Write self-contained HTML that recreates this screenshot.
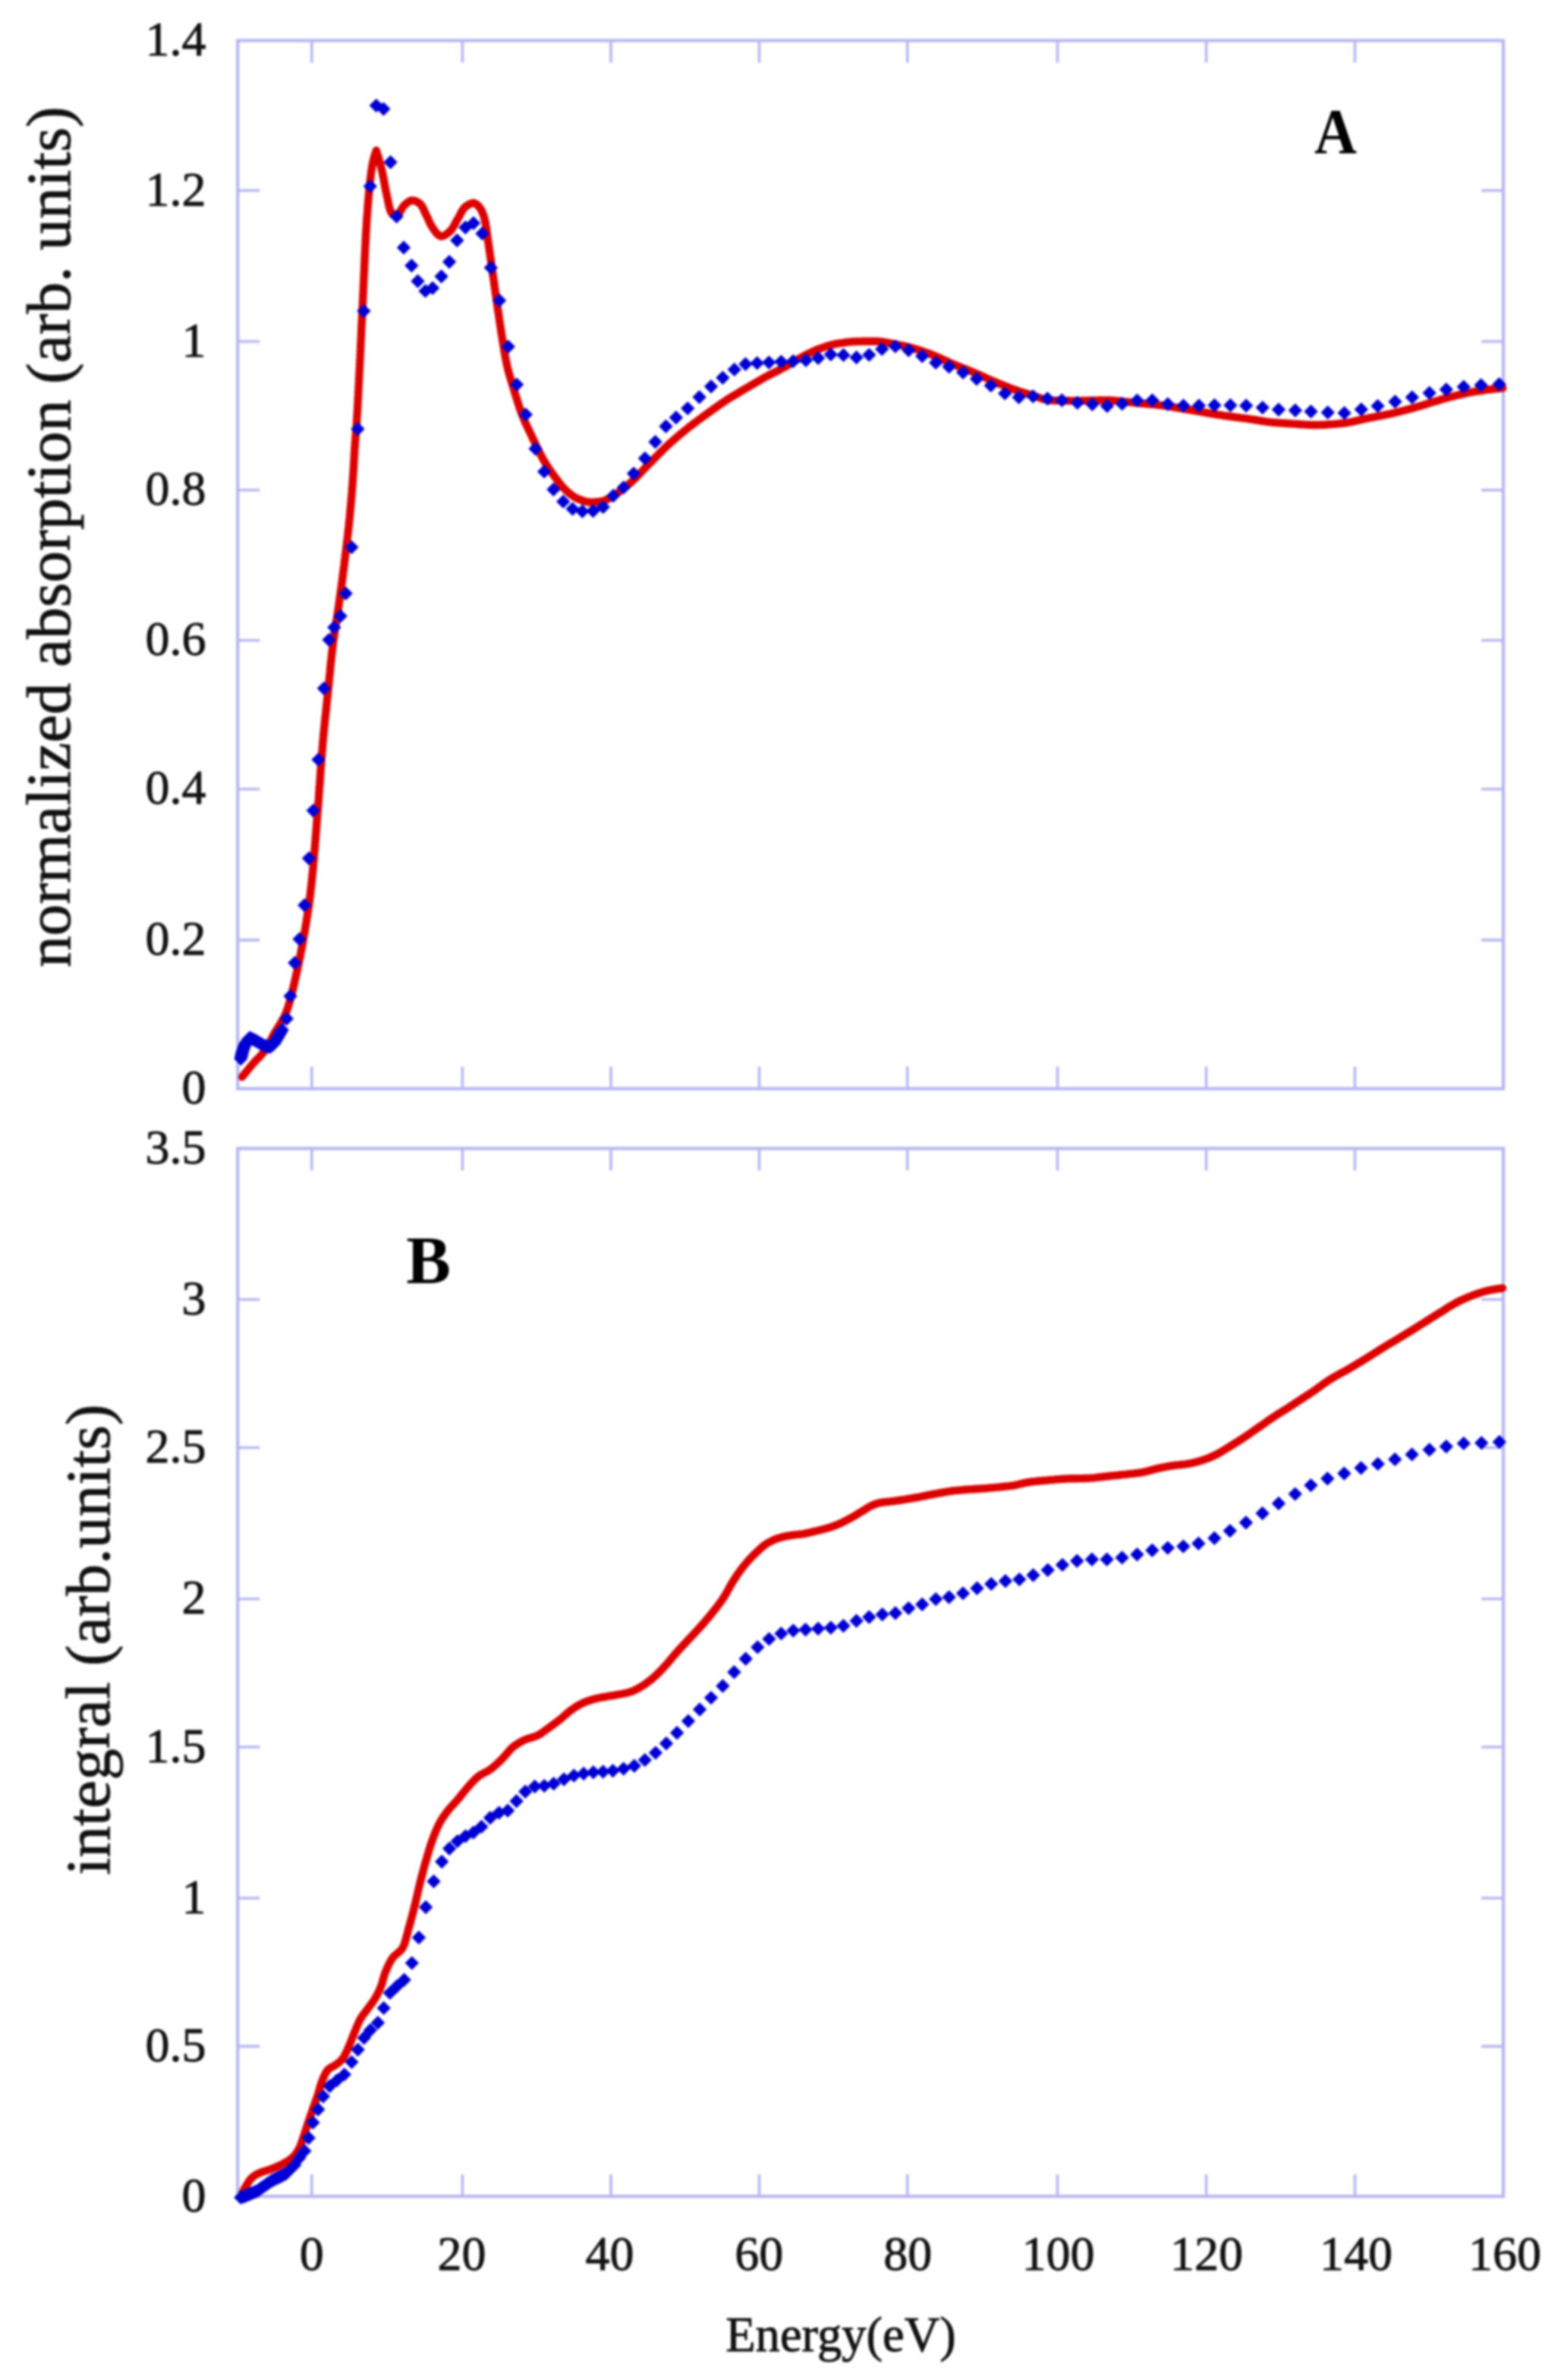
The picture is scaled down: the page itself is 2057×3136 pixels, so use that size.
<!DOCTYPE html>
<html lang="en"><head><meta charset="utf-8"><title>Normalized absorption and integral vs Energy</title>
<style>
html,body{margin:0;padding:0;background:#fff;}
svg{display:block;filter:blur(1.5px);}
text{font-family:"Liberation Serif", "Times New Roman", serif;fill:#111111;stroke:#111111;stroke-width:0.9px;stroke-linejoin:round;}
.tk{font-size:64px;}
.yl{font-size:83.4px;}
.pl{font-size:86px;font-weight:bold;fill:#000;stroke:none;}
</style></head><body>
<svg width="2057" height="3136" viewBox="0 0 2057 3136">
<rect width="2057" height="3136" fill="#ffffff"/>

<g id="panelA">
<rect x="313.3" y="53.4" width="1667.7" height="1381.1" fill="none" stroke="#b6b6f3" stroke-width="4.3"/>
<path d="M410.8,53.4v29M410.8,1434.5v-29M609.4,53.4v29M609.4,1434.5v-29M805.0,53.4v29M805.0,1434.5v-29M1000.5,53.4v29M1000.5,1434.5v-29M1195.7,53.4v29M1195.7,1434.5v-29M1393.5,53.4v29M1393.5,1434.5v-29M1589.5,53.4v29M1589.5,1434.5v-29M1785.4,53.4v29M1785.4,1434.5v-29M313.3,251h29M1981.0,251h-29M313.3,450h29M1981.0,450h-29M313.3,645.8h29M1981.0,645.8h-29M313.3,843.8h29M1981.0,843.8h-29M313.3,1039.8h29M1981.0,1039.8h-29M313.3,1238.6h29M1981.0,1238.6h-29" stroke="#b6b6f3" stroke-width="3.6" fill="none"/>
<path d="M319.2,1419 L321,1416.6 L322.9,1414.3 L324.8,1411.9 L326.7,1409.6 L328.6,1407.3 L330.5,1405 L332.4,1402.7 L334.4,1400.4 L336.4,1398.2 L338.5,1396 L340.7,1393.9 L342.7,1391.7 L344.7,1389.5 L346.7,1387.2 L348.4,1384.8 L350.1,1382.4 L351.7,1379.8 L353.2,1377.3 L354.6,1374.6 L356.1,1372 L357.5,1369.3 L358.9,1366.6 L360.3,1364 L361.8,1361.3 L363.3,1358.7 L364.9,1356.2 L366.5,1353.6 L368.1,1351 L369.7,1348.4 L371.2,1345.8 L372.7,1343.2 L374.2,1340.6 L375.5,1337.9 L376.6,1335.2 L377.7,1332.5 L378.6,1329.7 L379.6,1326.9 L380.5,1324.1 L381.3,1321.2 L382.2,1318.3 L383,1315.4 L383.7,1312.5 L384.5,1309.6 L385.2,1306.6 L385.9,1303.7 L386.6,1300.8 L387.3,1297.8 L388,1294.8 L388.6,1291.9 L389.3,1289 L390,1286 L390.6,1283.1 L391.3,1280.2 L391.9,1277.3 L392.6,1274.3 L393.2,1271.4 L393.8,1268.5 L394.4,1265.5 L395,1262.6 L395.6,1259.6 L396.2,1256.7 L396.7,1253.7 L397.3,1250.8 L397.8,1247.8 L398.4,1244.9 L398.9,1241.9 L399.5,1239 L400,1236 L400.5,1233.1 L401,1230.1 L401.5,1227.2 L402.1,1224.2 L402.6,1221.2 L403.1,1218.3 L403.6,1215.3 L404,1212.4 L404.5,1209.4 L405,1206.4 L405.5,1203.5 L405.9,1200.5 L406.3,1197.5 L406.8,1194.6 L407.2,1191.6 L407.6,1188.6 L408,1185.7 L408.3,1182.7 L408.7,1179.7 L409.1,1176.7 L409.4,1173.7 L409.7,1170.8 L410.1,1167.8 L410.4,1164.8 L410.7,1161.8 L411,1158.8 L411.3,1155.8 L411.6,1152.9 L411.9,1149.9 L412.2,1146.9 L412.5,1143.9 L412.8,1140.9 L413,1137.9 L413.3,1134.9 L413.6,1132 L413.8,1129 L414.1,1126 L414.3,1123 L414.6,1120 L414.8,1117 L415.1,1114 L415.3,1111 L415.6,1108 L415.8,1105 L416,1102.1 L416.3,1099.1 L416.5,1096.1 L416.8,1093.1 L417,1090.1 L417.2,1087.1 L417.4,1084.1 L417.7,1081.1 L417.9,1078.1 L418.1,1075.1 L418.4,1072.1 L418.6,1069.1 L418.8,1066.2 L419.1,1063.2 L419.3,1060.2 L419.5,1057.2 L419.8,1054.2 L420,1051.2 L420.2,1048.2 L420.4,1045.2 L420.6,1042.2 L420.8,1039.2 L421,1036.2 L421.3,1033.2 L421.5,1030.3 L421.7,1027.3 L421.9,1024.3 L422.1,1021.3 L422.3,1018.3 L422.5,1015.3 L422.7,1012.3 L423,1009.3 L423.2,1006.3 L423.4,1003.3 L423.6,1000.3 L423.9,997.3 L424.1,994.3 L424.3,991.4 L424.6,988.4 L424.8,985.4 L425.1,982.4 L425.3,979.4 L425.6,976.4 L425.9,973.4 L426.2,970.4 L426.4,967.5 L426.7,964.5 L427,961.5 L427.3,958.5 L427.6,955.5 L427.9,952.5 L428.2,949.5 L428.5,946.6 L428.8,943.6 L429.2,940.6 L429.5,937.6 L429.8,934.6 L430.1,931.6 L430.4,928.7 L430.7,925.7 L431,922.7 L431.4,919.7 L431.7,916.7 L432,913.7 L432.3,910.7 L432.6,907.8 L432.9,904.8 L433.2,901.8 L433.5,898.8 L433.8,895.8 L434.1,892.8 L434.4,889.8 L434.7,886.9 L435,883.9 L435.2,880.9 L435.5,877.9 L435.8,874.9 L436.1,871.9 L436.5,868.9 L436.8,866 L437.1,863 L437.4,860 L437.8,857 L438.1,854 L438.5,851.1 L438.8,848.1 L439.2,845.1 L439.6,842.1 L440.1,839.2 L440.5,836.2 L440.9,833.2 L441.4,830.3 L441.9,827.3 L442.3,824.4 L442.8,821.4 L443.3,818.4 L443.7,815.5 L444.2,812.5 L444.7,809.5 L445.1,806.6 L445.6,803.6 L446,800.6 L446.4,797.7 L446.8,794.7 L447.2,791.7 L447.7,788.7 L448.1,785.8 L448.5,782.8 L448.9,779.8 L449.3,776.9 L449.7,773.9 L450.1,770.9 L450.5,767.9 L450.9,765 L451.3,762 L451.7,759 L452,756 L452.4,753.1 L452.8,750.1 L453.2,747.1 L453.6,744.1 L453.9,741.2 L454.3,738.2 L454.7,735.2 L455,732.2 L455.4,729.2 L455.8,726.3 L456.1,723.3 L456.5,720.3 L456.9,717.3 L457.2,714.4 L457.6,711.4 L457.9,708.4 L458.3,705.4 L458.6,702.4 L458.9,699.5 L459.3,696.5 L459.6,693.5 L459.9,690.5 L460.2,687.5 L460.5,684.5 L460.8,681.5 L461.1,678.6 L461.3,675.6 L461.6,672.6 L461.9,669.6 L462.2,666.6 L462.4,663.6 L462.7,660.6 L462.9,657.6 L463.2,654.7 L463.4,651.7 L463.7,648.7 L463.9,645.7 L464.1,642.7 L464.4,639.7 L464.6,636.7 L464.8,633.7 L465,630.7 L465.2,627.7 L465.4,624.7 L465.6,621.7 L465.8,618.8 L466,615.8 L466.2,612.8 L466.3,609.8 L466.5,606.8 L466.7,603.8 L466.8,600.8 L467,597.8 L467.2,594.8 L467.4,591.8 L467.6,588.8 L467.8,585.8 L468,582.8 L468.2,579.8 L468.5,576.8 L468.7,573.8 L469,570.9 L469.2,567.9 L469.5,564.9 L469.7,561.9 L469.9,558.9 L470.1,555.9 L470.2,552.9 L470.4,549.9 L470.6,546.9 L470.8,543.9 L471,540.9 L471.1,537.9 L471.3,534.9 L471.5,531.9 L471.6,528.9 L471.8,525.9 L471.9,523 L472.1,520 L472.2,517 L472.4,514 L472.5,511 L472.7,508 L472.8,505 L473,502 L473.1,499 L473.3,496 L473.4,493 L473.6,490 L473.7,487 L473.9,484 L474,481 L474.2,478 L474.3,475 L474.5,472 L474.6,469 L474.8,466 L474.9,463 L475.1,460 L475.2,457 L475.3,454 L475.5,451 L475.6,448 L475.8,445 L475.9,442 L476.1,439.1 L476.2,436.1 L476.3,433.1 L476.5,430.1 L476.6,427.1 L476.8,424.1 L476.9,421.1 L477.1,418.1 L477.2,415.1 L477.3,412.1 L477.5,409.1 L477.6,406.1 L477.8,403.1 L477.9,400.1 L478,397.1 L478.2,394.1 L478.3,391.1 L478.5,388.1 L478.6,385.1 L478.8,382.1 L478.9,379.1 L479,376.1 L479.2,373.1 L479.3,370.1 L479.4,367.1 L479.6,364.1 L479.7,361.1 L479.8,358.1 L480,355.1 L480.1,352.1 L480.2,349.1 L480.4,346.1 L480.5,343.1 L480.6,340.2 L480.8,337.2 L480.9,334.2 L481.1,331.2 L481.2,328.2 L481.3,325.2 L481.5,322.2 L481.7,319.2 L481.8,316.2 L482,313.2 L482.1,310.2 L482.3,307.2 L482.5,304.2 L482.7,301.2 L482.9,298.2 L483,295.2 L483.2,292.2 L483.4,289.2 L483.6,286.2 L483.8,283.2 L484.1,280.2 L484.3,277.3 L484.5,274.3 L484.7,271.3 L485,268.3 L485.2,265.3 L485.5,262.3 L485.7,259.3 L486,256.3 L486.3,253.3 L486.6,250.4 L486.8,247.4 L487.1,244.4 L487.4,241.4 L487.8,238.4 L488.1,235.4 L488.5,232.4 L488.8,229.4 L489.2,226.5 L489.7,223.5 L490.1,220.5 L490.6,217.6 L491.2,214.7 L491.8,211.8 L492.6,208.9 L493.4,206 L494.3,203.1 L495.2,200.2 L495.8,198.3 L495.8,198.3 L496.7,201.2 L497.6,204 L498.5,206.9 L499.3,209.8 L500.1,212.7 L500.9,215.6 L501.7,218.5 L502.4,221.4 L503.2,224.3 L503.8,227.2 L504.4,230.1 L505,233.1 L505.6,236 L506.1,239 L506.7,241.9 L507.2,244.9 L507.7,247.8 L508.3,250.8 L508.9,253.7 L509.5,256.7 L510.2,259.6 L510.9,262.7 L511.5,265.9 L512.1,269.1 L512.9,272.2 L513.7,275.2 L514.6,277.9 L515.8,280.3 L517.3,282.3 L520.1,284.1 L522.6,284.3 L524.5,283 L526.3,280.6 L528,277.6 L529.8,274.5 L531.7,271.6 L533.8,269.5 L536.2,267.5 L538.8,265.6 L541.5,264.3 L544.2,264.1 L547.2,264.8 L550.2,266.2 L552.7,267.8 L554.6,269.6 L556.2,271.9 L557.7,274.6 L559,277.5 L560.3,280.5 L561.6,283.3 L563,286 L564.2,288.7 L565.4,291.5 L566.7,294.3 L568.1,296.9 L569.6,299.4 L571.3,302 L573.3,304.8 L575.4,307.5 L577.7,309.7 L580,311.2 L582.4,311.4 L585,310.6 L587.8,309 L590.4,307 L592.8,304.9 L594.7,302.9 L596.4,300.5 L598,297.9 L599.5,295.2 L600.9,292.5 L602.4,289.8 L604,287.2 L605.5,284.4 L606.9,281.6 L608.4,278.8 L610,276.2 L611.7,274 L613.7,272.1 L616.2,270.4 L619,268.8 L622,267.7 L624.6,267.4 L627.2,268.6 L629.7,270.7 L631.9,273.2 L633.6,275.6 L634.9,278.1 L636.1,280.9 L637.2,283.8 L638.1,286.8 L638.8,289.8 L639.5,292.7 L640,295.6 L640.5,298.5 L641,301.5 L641.4,304.5 L641.8,307.4 L642.2,310.4 L642.6,313.4 L643,316.4 L643.4,319.4 L643.9,322.4 L644.3,325.3 L644.7,328.3 L645.2,331.3 L645.6,334.2 L646,337.2 L646.4,340.2 L646.9,343.1 L647.3,346.1 L647.7,349.1 L648.1,352.1 L648.6,355 L649,358 L649.4,361 L649.8,363.9 L650.3,366.9 L650.7,369.9 L651.1,372.8 L651.5,375.8 L651.9,378.8 L652.4,381.8 L652.8,384.7 L653.2,387.7 L653.6,390.7 L654,393.6 L654.5,396.6 L654.9,399.6 L655.3,402.5 L655.7,405.5 L656.2,408.5 L656.6,411.5 L657.1,414.4 L657.5,417.4 L657.9,420.4 L658.4,423.3 L658.8,426.3 L659.3,429.3 L659.7,432.2 L660.2,435.2 L660.6,438.2 L661.1,441.1 L661.6,444.1 L662,447 L662.5,450 L663,453 L663.5,455.9 L663.9,458.9 L664.4,461.9 L664.9,464.8 L665.4,467.8 L666,470.7 L666.5,473.7 L667.1,476.6 L667.7,479.6 L668.3,482.5 L669,485.4 L669.8,488.3 L670.5,491.2 L671.4,494.1 L672.2,497 L673.1,499.8 L673.9,502.7 L674.8,505.6 L675.7,508.5 L676.6,511.3 L677.5,514.2 L678.3,517.1 L679.2,520 L680.1,522.8 L681,525.7 L681.9,528.6 L682.8,531.4 L683.7,534.3 L684.6,537.1 L685.6,540 L686.6,542.8 L687.6,545.6 L688.7,548.4 L689.8,551.2 L691,553.9 L692.2,556.7 L693.4,559.4 L694.7,562.1 L696,564.9 L697.3,567.6 L698.6,570.3 L699.9,573 L701.2,575.7 L702.4,578.4 L703.7,581.1 L705,583.8 L706.3,586.6 L707.6,589.3 L708.9,592 L710.2,594.7 L711.6,597.4 L713,600 L714.4,602.7 L715.8,605.3 L717.3,607.9 L718.9,610.4 L720.4,613 L722.1,615.5 L723.7,618 L725.4,620.5 L727.1,623 L728.9,625.4 L730.7,627.8 L732.5,630.2 L734.3,632.6 L736.1,635 L738,637.4 L739.9,639.8 L741.9,642.1 L743.9,644.3 L746,646.4 L748.2,648.3 L750.5,650.2 L752.9,652.1 L755.4,653.9 L758,655.5 L760.7,656.9 L763.4,658 L766.1,659 L769,660 L772,660.9 L775,661.5 L777.9,661.7 L780.9,661.6 L783.9,661.5 L787,661.2 L790,660.9 L792.9,660.5 L795.7,659.9 L798.5,658.8 L801.2,657.5 L803.9,655.9 L806.5,654.2 L809,652.6 L811.6,651 L814,649.4 L816.5,647.7 L818.9,645.9 L821.3,644 L823.7,642.1 L826,640.2 L828.3,638.3 L830.5,636.3 L832.8,634.3 L834.9,632.3 L837.1,630.2 L839.2,628.1 L841.3,625.9 L843.4,623.8 L845.5,621.6 L847.5,619.4 L849.6,617.2 L851.7,615 L853.8,612.9 L855.9,610.8 L858,608.6 L860.1,606.5 L862.2,604.3 L864.3,602.2 L866.4,600 L868.5,597.9 L870.6,595.8 L872.8,593.6 L874.9,591.5 L877,589.4 L879.2,587.4 L881.4,585.4 L883.6,583.3 L885.9,581.3 L888.1,579.4 L890.4,577.4 L892.7,575.4 L895,573.5 L897.3,571.6 L899.6,569.7 L901.9,567.8 L904.2,565.9 L906.6,564 L908.9,562.1 L911.3,560.3 L913.7,558.5 L916.1,556.7 L918.5,554.9 L920.9,553.1 L923.3,551.3 L925.7,549.6 L928.2,547.8 L930.6,546 L933,544.3 L935.5,542.5 L937.9,540.8 L940.3,539 L942.8,537.2 L945.2,535.5 L947.7,533.8 L950.1,532.1 L952.6,530.4 L955.1,528.7 L957.6,527 L960.1,525.4 L962.7,523.8 L965.2,522.3 L967.8,520.7 L970.4,519.2 L972.9,517.7 L975.5,516.1 L978.1,514.6 L980.7,513.1 L983.3,511.6 L985.9,510.1 L988.5,508.5 L991,507 L993.6,505.5 L996.2,503.9 L998.8,502.4 L1001.4,500.9 L1004,499.4 L1006.6,498 L1009.2,496.5 L1011.9,495.1 L1014.5,493.7 L1017.2,492.4 L1019.9,491 L1022.6,489.7 L1025.3,488.3 L1027.9,486.9 L1030.6,485.6 L1033.2,484.1 L1035.9,482.7 L1038.4,481.2 L1041,479.6 L1043.6,478 L1046.1,476.4 L1048.7,474.9 L1051.3,473.4 L1053.9,472 L1056.6,470.5 L1059.2,469.1 L1061.9,467.7 L1064.6,466.3 L1067.2,464.9 L1070,463.6 L1072.7,462.4 L1075.4,461.3 L1078.2,460.2 L1081,459.2 L1083.8,458.1 L1086.7,457.2 L1089.6,456.2 L1092.5,455.3 L1095.4,454.5 L1098.3,453.8 L1101.2,453.2 L1104.1,452.7 L1107.1,452.2 L1110.1,451.8 L1113,451.3 L1116,450.9 L1119,450.6 L1122,450.3 L1125,450.1 L1128,450 L1131,449.9 L1134,449.9 L1137,449.8 L1140,449.8 L1143,449.8 L1146,449.7 L1149,449.7 L1152,449.7 L1155,449.7 L1158,449.9 L1161,450.2 L1163.9,450.6 L1166.9,451.1 L1169.9,451.6 L1172.8,452.2 L1175.8,452.8 L1178.7,453.4 L1181.7,453.9 L1184.6,454.5 L1187.6,455.1 L1190.5,455.7 L1193.4,456.4 L1196.4,457.1 L1199.3,457.9 L1202.2,458.6 L1205,459.4 L1207.9,460.2 L1210.8,461.1 L1213.6,462.1 L1216.5,463.1 L1219.3,464.1 L1222.1,465.1 L1224.9,466.2 L1227.7,467.3 L1230.5,468.4 L1233.3,469.5 L1236,470.7 L1238.8,471.9 L1241.5,473.2 L1244.2,474.4 L1246.9,475.7 L1249.7,477 L1252.4,478.2 L1255.1,479.4 L1257.9,480.6 L1260.7,481.8 L1263.5,482.9 L1266.3,484 L1269.1,485.1 L1271.9,486.1 L1274.6,487.2 L1277.4,488.4 L1280.2,489.5 L1283,490.7 L1285.7,491.9 L1288.5,493.1 L1291.2,494.3 L1293.9,495.6 L1296.6,496.8 L1299.4,498.1 L1302.1,499.3 L1304.8,500.6 L1307.6,501.7 L1310.4,502.9 L1313.1,504.1 L1315.9,505.2 L1318.7,506.4 L1321.4,507.5 L1324.2,508.6 L1327,509.7 L1329.8,510.8 L1332.6,511.8 L1335.5,512.8 L1338.3,513.8 L1341.1,514.8 L1344,515.8 L1346.8,516.7 L1349.7,517.6 L1352.5,518.5 L1355.4,519.4 L1358.3,520.3 L1361.2,521.2 L1364,522.2 L1366.9,523.2 L1369.8,524.2 L1372.7,525.2 L1375.5,526 L1378.5,526.7 L1381.4,527.2 L1384.3,527.5 L1387.3,527.6 L1390.2,527.7 L1393.2,527.8 L1396.2,527.8 L1399.2,527.9 L1402.2,528 L1405.2,528 L1408.3,528 L1411.3,528.1 L1414.3,528.1 L1417.3,528.1 L1420.3,528.1 L1423.3,528.1 L1426.3,528 L1429.3,528 L1432.3,527.9 L1435.3,527.8 L1438.3,527.7 L1441.3,527.7 L1444.3,527.6 L1447.3,527.5 L1450.3,527.5 L1453.3,527.4 L1456.3,527.4 L1459.3,527.4 L1462.3,527.5 L1465.3,527.7 L1468.3,527.9 L1471.2,528.1 L1474.2,528.4 L1477.2,528.7 L1480.2,529.1 L1483.2,529.4 L1486.2,529.7 L1489.2,530.1 L1492.2,530.4 L1495.1,530.7 L1498.1,531 L1501.1,531.2 L1504.1,531.5 L1507.1,531.8 L1510.1,532 L1513.1,532.3 L1516.1,532.6 L1519.1,532.9 L1522,533.2 L1525,533.5 L1528,533.8 L1531,534.2 L1534,534.5 L1536.9,534.9 L1539.9,535.3 L1542.9,535.8 L1545.8,536.3 L1548.8,536.8 L1551.7,537.3 L1554.7,537.8 L1557.6,538.3 L1560.6,538.9 L1563.6,539.4 L1566.5,539.9 L1569.5,540.4 L1572.4,540.9 L1575.4,541.4 L1578.3,541.9 L1581.3,542.4 L1584.3,543 L1587.2,543.5 L1590.2,544 L1593.1,544.5 L1596.1,545 L1599,545.5 L1602,546 L1605,546.4 L1607.9,546.9 L1610.9,547.3 L1613.9,547.8 L1616.8,548.2 L1619.8,548.6 L1622.8,549 L1625.8,549.4 L1628.7,549.8 L1631.7,550.2 L1634.7,550.6 L1637.7,550.9 L1640.6,551.3 L1643.6,551.7 L1646.6,552.1 L1649.5,552.6 L1652.5,553 L1655.5,553.5 L1658.4,554 L1661.4,554.5 L1664.4,554.9 L1667.3,555.4 L1670.3,555.8 L1673.3,556.2 L1676.3,556.5 L1679.2,556.7 L1682.2,557 L1685.2,557.2 L1688.2,557.4 L1691.2,557.6 L1694.2,557.8 L1697.2,558 L1700.2,558.2 L1703.2,558.4 L1706.2,558.6 L1709.2,558.8 L1712.2,559 L1715.2,559.2 L1718.2,559.4 L1721.2,559.6 L1724.2,559.7 L1727.2,559.9 L1730.2,560 L1733.2,560 L1736.1,560 L1739.1,559.9 L1742.1,559.8 L1745.2,559.7 L1748.2,559.5 L1751.2,559.3 L1754.2,559.1 L1757.1,558.9 L1760.1,558.6 L1763.1,558.3 L1766.1,558 L1769.1,557.8 L1772,557.4 L1775,557 L1777.9,556.5 L1780.9,555.9 L1783.8,555.3 L1786.8,554.6 L1789.7,553.9 L1792.6,553.3 L1795.6,552.6 L1798.5,551.9 L1801.4,551.3 L1804.4,550.7 L1807.3,550.1 L1810.3,549.6 L1813.2,549 L1816.2,548.4 L1819.1,547.9 L1822.1,547.3 L1825,546.7 L1828,546.1 L1830.9,545.5 L1833.8,544.9 L1836.7,544.2 L1839.7,543.5 L1842.6,542.8 L1845.5,542.1 L1848.4,541.3 L1851.3,540.6 L1854.2,539.8 L1857.1,539 L1860,538.2 L1862.9,537.4 L1865.7,536.5 L1868.6,535.7 L1871.5,534.9 L1874.4,534.1 L1877.3,533.2 L1880.1,532.3 L1883,531.4 L1885.9,530.5 L1888.7,529.6 L1891.6,528.7 L1894.5,527.9 L1897.3,527 L1900.2,526.1 L1903.1,525.3 L1906,524.5 L1908.9,523.8 L1911.8,523 L1914.7,522.3 L1917.6,521.5 L1920.5,520.8 L1923.5,520.1 L1926.4,519.4 L1929.3,518.8 L1932.2,518.1 L1935.2,517.5 L1938.1,517 L1941.1,516.4 L1944,515.9 L1947,515.4 L1949.9,515 L1952.9,514.5 L1955.9,514.1 L1958.9,513.7 L1961.8,513.3 L1964.8,513 L1967.8,512.6 L1970.8,512.3 L1973.8,512 L1976.7,511.6 L1979.7,511.4 L1980.3,511.3" fill="none" stroke="#dd0000" stroke-width="10.4" stroke-linejoin="round" stroke-linecap="round"/>
<path d="M308.1,1395L317.3,1385.8L326.5,1395L317.3,1404.2ZM308.7,1392.5L317.9,1383.3L327.1,1392.5L317.9,1401.7ZM309.2,1389.9L318.4,1380.7L327.6,1389.9L318.4,1399.1ZM309.8,1387.4L319,1378.2L328.2,1387.4L319,1396.6ZM310.5,1384.9L319.7,1375.7L328.9,1384.9L319.7,1394.1ZM311.4,1382.5L320.6,1373.3L329.8,1382.5L320.6,1391.7ZM312.3,1380L321.5,1370.8L330.7,1380L321.5,1389.2ZM313.2,1377.6L322.4,1368.4L331.6,1377.6L322.4,1386.8ZM314.3,1375.2L323.5,1366L332.7,1375.2L323.5,1384.4ZM315.7,1373.1L324.9,1363.9L334.1,1373.1L324.9,1382.3ZM317.2,1370.9L326.4,1361.7L335.6,1370.9L326.4,1380.1ZM318.6,1368.7L327.8,1359.5L337,1368.7L327.8,1377.9ZM320.3,1367.5L329.5,1358.3L338.7,1367.5L329.5,1376.7ZM322.6,1368.7L331.8,1359.5L341,1368.7L331.8,1377.9ZM324.9,1369.9L334.1,1360.7L343.3,1369.9L334.1,1379.1ZM327.3,1371L336.5,1361.8L345.7,1371L336.5,1380.2ZM329.6,1372.2L338.8,1363L348,1372.2L338.8,1381.4ZM331.8,1373.6L341,1364.4L350.2,1373.6L341,1382.8ZM334,1374.9L343.2,1365.7L352.4,1374.9L343.2,1384.1ZM336.3,1376.3L345.5,1367.1L354.7,1376.3L345.5,1385.5ZM338.5,1377.6L347.7,1368.4L356.9,1377.6L347.7,1386.8ZM341,1378.3L350.2,1369.1L359.4,1378.3L350.2,1387.5ZM343.5,1379L352.7,1369.8L361.9,1379L352.7,1388.2ZM346,1379.6L355.2,1370.4L364.4,1379.6L355.2,1388.8ZM348.1,1378.4L357.3,1369.2L366.5,1378.4L357.3,1387.6ZM350.1,1376.7L359.3,1367.5L368.5,1376.7L359.3,1385.9ZM352.1,1375L361.3,1365.8L370.5,1375L361.3,1384.2ZM353.4,1372.8L362.6,1363.6L371.8,1372.8L362.6,1382ZM354.7,1370.5L363.9,1361.3L373.1,1370.5L363.9,1379.7ZM356,1368.3L365.2,1359.1L374.4,1368.3L365.2,1377.5ZM357.2,1366L366.4,1356.8L375.6,1366L366.4,1375.2ZM358.5,1363.8L367.7,1354.6L376.9,1363.8L367.7,1373ZM359.9,1361.5L369.1,1352.3L378.3,1361.5L369.1,1370.7ZM361.2,1359.3L370.4,1350.1L379.6,1359.3L370.4,1368.5ZM362.5,1357.1L371.7,1347.9L380.9,1357.1L371.7,1366.3ZM368.6,1342.2L377.8,1333L387,1342.2L377.8,1351.4ZM373.4,1312.4L382.6,1303.2L391.8,1312.4L382.6,1321.6ZM379.2,1268.8L388.4,1259.6L397.6,1268.8L388.4,1278ZM385.4,1237.4L394.6,1228.2L403.8,1237.4L394.6,1246.6ZM392.1,1192.7L401.3,1183.5L410.5,1192.7L401.3,1201.9ZM397.9,1131L407.1,1121.8L416.3,1131L407.1,1140.2ZM403.6,1068.1L412.8,1058.9L422,1068.1L412.8,1077.3ZM410.3,1000.9L419.5,991.7L428.7,1000.9L419.5,1010.1ZM417.7,907.1L426.9,897.9L436.1,907.1L426.9,916.3ZM424.4,843.1L433.6,833.9L442.8,843.1L433.6,852.3ZM431.1,826.8L440.3,817.6L449.5,826.8L440.3,836ZM439.4,811.8L448.6,802.6L457.8,811.8L448.6,821ZM446.5,782L455.7,772.8L464.9,782L455.7,791.2ZM454.2,721.1L463.4,711.9L472.6,721.1L463.4,730.3ZM462.2,565.2L471.4,556L480.6,565.2L471.4,574.4ZM470.2,409.7L479.4,400.5L488.6,409.7L479.4,418.9ZM478.6,245.4L487.8,236.2L497,245.4L487.8,254.6ZM486.6,139.1L495.8,129.9L505,139.1L495.8,148.3ZM496.2,143.6L505.4,134.4L514.6,143.6L505.4,152.8ZM505.4,213.8L514.6,204.6L523.8,213.8L514.6,223ZM513.4,285.3L522.6,276.1L531.8,285.3L522.6,294.5ZM522.8,326.2L532,317L541.2,326.2L532,335.4ZM533.1,350L542.3,340.8L551.5,350L542.3,359.2ZM541.3,370.5L550.5,361.3L559.7,370.5L550.5,379.7ZM551.3,383.4L560.5,374.2L569.7,383.4L560.5,392.6ZM560.9,379.6L570.1,370.4L579.3,379.6L570.1,388.8ZM572.4,364.2L581.6,355L590.8,364.2L581.6,373.4ZM582.9,345L592.1,335.8L601.3,345L592.1,354.2ZM593.1,316.8L602.3,307.6L611.5,316.8L602.3,326ZM604.1,299.8L613.3,290.6L622.5,299.8L613.3,309ZM614.8,294L624,284.8L633.2,294L624,303.2ZM626.3,307.8L635.5,298.6L644.7,307.8L635.5,317ZM637.6,352.7L646.8,343.5L656,352.7L646.8,361.9ZM648.9,395.9L658.1,386.7L667.3,395.9L658.1,405.1ZM660.5,456.8L669.7,447.6L678.9,456.8L669.7,466ZM671.8,506.8L681,497.6L690.2,506.8L681,516ZM683.6,546.2L692.8,537L702,546.2L692.8,555.4ZM696.4,591.2L705.6,582L714.8,591.2L705.6,600.4ZM707.9,621.4L717.1,612.2L726.3,621.4L717.1,630.6ZM720.2,645L729.4,635.8L738.6,645L729.4,654.2ZM733,660.9L742.2,651.7L751.4,660.9L742.2,670.1ZM745.3,670.6L754.5,661.4L763.7,670.6L754.5,679.8ZM758.2,673.7L767.4,664.5L776.6,673.7L767.4,682.9ZM772.3,673.2L781.5,664L790.7,673.2L781.5,682.4ZM785.6,668.1L794.8,658.9L804,668.1L794.8,677.3ZM798.9,653.2L808.1,644L817.3,653.2L808.1,662.4ZM812.5,642.4L821.7,633.2L830.9,642.4L821.7,651.6ZM825.8,624L835,614.8L844.2,624L835,633.2ZM840.7,604L849.9,594.8L859.1,604L849.9,613.2ZM854.3,582.2L863.5,573L872.7,582.2L863.5,591.4ZM868.3,561.7L877.5,552.5L886.7,561.7L877.5,570.9ZM881.7,550.2L890.9,541L900.1,550.2L890.9,559.4ZM897,538.1L906.2,528.9L915.4,538.1L906.2,547.3ZM912.4,523.3L921.6,514.1L930.8,523.3L921.6,532.5ZM927.8,509.2L937,500L946.2,509.2L937,518.4ZM943.2,497.7L952.4,488.5L961.6,497.7L952.4,506.9ZM958.5,486.9L967.7,477.7L976.9,486.9L967.7,496.1ZM973.2,479.7L982.4,470.5L991.6,479.7L982.4,488.9ZM988.5,478.4L997.7,469.2L1006.9,478.4L997.7,487.6ZM1004.1,477.6L1013.3,468.4L1022.5,477.6L1013.3,486.8ZM1020.2,476.6L1029.4,467.4L1038.6,476.6L1029.4,485.8ZM1035.9,476L1045.1,466.8L1054.3,476L1045.1,485.2ZM1052.8,474.8L1062,465.6L1071.2,474.8L1062,484ZM1069,471.7L1078.2,462.5L1087.4,471.7L1078.2,480.9ZM1085.6,467.1L1094.8,457.9L1104,467.1L1094.8,476.3ZM1102.3,467.9L1111.5,458.7L1120.7,467.9L1111.5,477.1ZM1119.4,471L1128.6,461.8L1137.8,471L1128.6,480.2ZM1136.1,467.6L1145.3,458.4L1154.5,467.6L1145.3,476.8ZM1153,459.9L1162.2,450.7L1171.4,459.9L1162.2,469.1ZM1170.7,456.4L1179.9,447.2L1189.1,456.4L1179.9,465.6ZM1188.1,461.5L1197.3,452.3L1206.5,461.5L1197.3,470.7ZM1206,469.2L1215.2,460L1224.4,469.2L1215.2,478.4ZM1224,477.9L1233.2,468.7L1242.4,477.9L1233.2,487.1ZM1241.4,483.3L1250.6,474.1L1259.8,483.3L1250.6,492.5ZM1259.9,490.7L1269.1,481.5L1278.3,490.7L1269.1,499.9ZM1277.8,499.2L1287,490L1296.2,499.2L1287,508.4ZM1296.5,508.1L1305.7,498.9L1314.9,508.1L1305.7,517.3ZM1315,518.4L1324.2,509.2L1333.4,518.4L1324.2,527.6ZM1333.4,523.5L1342.6,514.3L1351.8,523.5L1342.6,532.7ZM1352.1,522.2L1361.3,513L1370.5,522.2L1361.3,531.4ZM1371.1,525.2L1380.3,516L1389.5,525.2L1380.3,534.4ZM1390.1,527.5L1399.3,518.3L1408.5,527.5L1399.3,536.7ZM1410.5,530.7L1419.7,521.5L1428.9,530.7L1419.7,539.9ZM1430.2,532.7L1439.4,523.5L1448.6,532.7L1439.4,541.9ZM1449.7,535L1458.9,525.8L1468.1,535L1458.9,544.2ZM1469.5,532L1478.7,522.8L1487.9,532L1478.7,541.2ZM1489.2,527.6L1498.4,518.4L1507.6,527.6L1498.4,536.8ZM1509.2,527.4L1518.4,518.2L1527.6,527.4L1518.4,536.6ZM1529.7,532.5L1538.9,523.3L1548.1,532.5L1538.9,541.7ZM1550.2,534.5L1559.4,525.3L1568.6,534.5L1559.4,543.7ZM1570.7,534.5L1579.9,525.3L1589.1,534.5L1579.9,543.7ZM1591.2,534L1600.4,524.8L1609.6,534L1600.4,543.2ZM1612.2,534L1621.4,524.8L1630.6,534L1621.4,543.2ZM1632.9,534.5L1642.1,525.3L1651.3,534.5L1642.1,543.7ZM1654.5,537.1L1663.7,527.9L1672.9,537.1L1663.7,546.3ZM1675.7,539.7L1684.9,530.5L1694.1,539.7L1684.9,548.9ZM1697.6,540.8L1706.8,531.6L1716,540.8L1706.8,550ZM1718.3,542.3L1727.5,533.1L1736.7,542.3L1727.5,551.5ZM1740.5,543.5L1749.7,534.3L1758.9,543.5L1749.7,552.7ZM1762.3,544.2L1771.5,535L1780.7,544.2L1771.5,553.4ZM1784.6,539.5L1793.8,530.3L1803,539.5L1793.8,548.7ZM1806.3,534.9L1815.5,525.7L1824.7,534.9L1815.5,544.1ZM1829.2,529.2L1838.4,520L1847.6,529.2L1838.4,538.4ZM1851.6,523.5L1860.8,514.3L1870,523.5L1860.8,532.7ZM1874.4,517.8L1883.6,508.6L1892.8,517.8L1883.6,527ZM1896.6,513.2L1905.8,504L1915,513.2L1905.8,522.4ZM1919.5,509.8L1928.7,500.6L1937.9,509.8L1928.7,519ZM1942.4,507.5L1951.6,498.3L1960.8,507.5L1951.6,516.7ZM1966.4,506.3L1975.6,497.1L1984.8,506.3L1975.6,515.5Z" fill="#0000d4"/>
</g>
<g id="panelB">
<rect x="313.3" y="1513.3" width="1667.7" height="1380.7" fill="none" stroke="#b6b6f3" stroke-width="4.3"/>
<path d="M410.8,1513.3v29M410.8,2894.0v-29M609.4,1513.3v29M609.4,2894.0v-29M805.0,1513.3v29M805.0,2894.0v-29M1000.5,1513.3v29M1000.5,2894.0v-29M1195.7,1513.3v29M1195.7,2894.0v-29M1393.5,1513.3v29M1393.5,2894.0v-29M1589.5,1513.3v29M1589.5,2894.0v-29M1785.4,1513.3v29M1785.4,2894.0v-29M313.3,1712.3h29M1981.0,1712.3h-29M313.3,1907.5h29M1981.0,1907.5h-29M313.3,2106.8h29M1981.0,2106.8h-29M313.3,2302h29M1981.0,2302h-29M313.3,2501h29M1981.0,2501h-29M313.3,2696.4h29M1981.0,2696.4h-29" stroke="#b6b6f3" stroke-width="3.6" fill="none"/>
<path d="M319.2,2890 L320.5,2887.3 L321.8,2884.6 L323.3,2881.9 L324.8,2879.4 L326.4,2876.8 L328,2874.2 L329.8,2871.8 L331.8,2869.6 L334,2867.7 L336.5,2866 L339.2,2864.5 L341.9,2863.2 L344.6,2862.1 L347.5,2861.1 L350.4,2860.2 L353.3,2859.4 L356.1,2858.5 L358.9,2857.4 L361.7,2856.3 L364.5,2855.1 L367.3,2853.9 L370,2852.6 L372.7,2851.3 L375.3,2849.8 L377.9,2848.3 L380.4,2846.7 L382.9,2844.9 L385.2,2843 L387.3,2841 L389.2,2838.7 L391,2836.3 L392.7,2833.7 L394.1,2831 L395.4,2828.4 L396.6,2825.6 L397.6,2822.8 L398.5,2819.9 L399.5,2817.1 L400.4,2814.2 L401.3,2811.3 L402.3,2808.5 L403.2,2805.6 L404.2,2802.8 L405.1,2799.9 L406.1,2797.1 L407,2794.2 L408,2791.4 L408.9,2788.6 L409.9,2785.7 L410.9,2782.9 L411.8,2780 L412.8,2777.2 L413.9,2774.4 L414.9,2771.6 L415.9,2768.7 L416.9,2765.9 L417.9,2763.1 L418.8,2760.2 L419.7,2757.3 L420.5,2754.4 L421.3,2751.5 L422.2,2748.7 L423.1,2745.8 L424.1,2743 L425.2,2740.2 L426.4,2737.4 L427.7,2734.5 L429.1,2731.7 L430.6,2729.2 L432.3,2727 L434.5,2725.2 L437.1,2723.7 L439.9,2722.3 L442.5,2720.7 L444.9,2718.9 L447.3,2716.9 L449.6,2714.9 L451.5,2712.7 L453.1,2710.3 L454.6,2707.8 L455.9,2705 L457.2,2702.2 L458.4,2699.4 L459.6,2696.7 L460.8,2693.9 L461.9,2691.1 L463,2688.3 L464.1,2685.5 L465.2,2682.7 L466.3,2679.9 L467.4,2677.2 L468.6,2674.4 L469.7,2671.6 L470.9,2668.8 L472.1,2666 L473.4,2663.3 L474.7,2660.7 L476.2,2658.2 L477.9,2655.7 L479.7,2653.3 L481.5,2650.9 L483.4,2648.5 L485.1,2646 L486.9,2643.6 L488.8,2641.2 L490.6,2638.8 L492.3,2636.3 L493.9,2633.8 L495.4,2631.3 L496.9,2628.6 L498.2,2626 L499.6,2623.2 L500.8,2620.5 L501.9,2617.7 L502.9,2614.9 L503.8,2612 L504.6,2609.1 L505.4,2606.2 L506.2,2603.3 L507.2,2600.5 L508.2,2597.7 L509.4,2594.9 L510.6,2592.1 L511.9,2589.4 L513.2,2586.6 L514.7,2584 L516.2,2581.5 L517.9,2579.1 L519.9,2576.9 L522.3,2574.9 L524.7,2572.9 L527.1,2570.8 L529.1,2568.7 L530.7,2566.4 L531.9,2563.9 L533,2561.2 L533.9,2558.4 L534.7,2555.5 L535.5,2552.5 L536.3,2549.5 L537.1,2546.5 L537.8,2543.5 L538.6,2540.6 L539.4,2537.7 L540.3,2534.8 L541.1,2531.9 L541.8,2529 L542.6,2526.1 L543.4,2523.2 L544.1,2520.3 L544.9,2517.4 L545.6,2514.5 L546.3,2511.6 L547.1,2508.7 L547.8,2505.8 L548.4,2502.8 L549.1,2499.9 L549.8,2497 L550.4,2494.1 L551.1,2491.1 L551.8,2488.2 L552.5,2485.3 L553.2,2482.4 L553.9,2479.5 L554.6,2476.6 L555.4,2473.7 L556.1,2470.8 L556.9,2467.9 L557.7,2465 L558.4,2462.1 L559.2,2459.2 L560,2456.3 L560.8,2453.4 L561.7,2450.5 L562.5,2447.6 L563.3,2444.7 L564.2,2441.8 L565,2439 L565.9,2436.1 L566.8,2433.2 L567.7,2430.4 L568.7,2427.5 L569.7,2424.7 L570.7,2421.9 L571.8,2419.1 L572.9,2416.3 L574,2413.5 L575.2,2410.7 L576.4,2407.9 L577.7,2405.2 L579,2402.6 L580.5,2400 L582,2397.4 L583.6,2394.9 L585.4,2392.4 L587.1,2390 L588.9,2387.5 L590.7,2385.2 L592.6,2382.9 L594.6,2380.6 L596.6,2378.4 L598.6,2376.2 L600.7,2373.9 L602.7,2371.7 L604.6,2369.4 L606.5,2367.1 L608.4,2364.7 L610.3,2362.4 L612.1,2360.1 L614.1,2357.8 L616,2355.5 L618,2353.2 L620,2350.9 L622,2348.7 L624.1,2346.5 L626.2,2344.3 L628.4,2342.3 L630.7,2340.5 L633.1,2338.8 L635.7,2337.3 L638.4,2335.9 L641.1,2334.5 L643.8,2333 L646.2,2331.4 L648.6,2329.6 L650.9,2327.7 L653.2,2325.7 L655.4,2323.7 L657.6,2321.6 L659.8,2319.5 L661.9,2317.4 L664,2315.2 L666,2312.9 L667.9,2310.6 L669.9,2308.2 L671.9,2306 L673.9,2303.8 L676.1,2301.9 L678.4,2300.1 L680.9,2298.4 L683.4,2296.8 L686.1,2295.2 L688.8,2293.8 L691.5,2292.6 L694.2,2291.4 L697.1,2290.5 L700,2289.7 L702.9,2288.8 L705.8,2287.9 L708.4,2286.7 L711,2285.3 L713.6,2283.7 L716,2281.9 L718.5,2280.1 L720.9,2278.3 L723.4,2276.6 L725.8,2274.8 L728.2,2273 L730.6,2271.3 L733,2269.5 L735.4,2267.6 L737.8,2265.8 L740.1,2263.9 L742.4,2261.9 L744.7,2259.9 L746.9,2257.9 L749.2,2256 L751.5,2254.1 L753.9,2252.4 L756.4,2250.7 L758.9,2249 L761.5,2247.4 L764.1,2245.9 L766.8,2244.6 L769.5,2243.3 L772.3,2242.2 L775.1,2241.2 L777.9,2240.3 L780.8,2239.4 L783.7,2238.6 L786.6,2237.9 L789.6,2237.2 L792.5,2236.7 L795.5,2236.1 L798.4,2235.6 L801.4,2235 L804.3,2234.5 L807.3,2234.1 L810.3,2233.6 L813.2,2233.1 L816.2,2232.5 L819.1,2232 L822.1,2231.4 L825.1,2230.8 L828,2230.1 L830.8,2229.3 L833.6,2228.3 L836.3,2227.1 L839,2225.7 L841.7,2224.3 L844.3,2222.7 L846.9,2221.2 L849.4,2219.6 L851.8,2217.8 L854.2,2216 L856.6,2214.2 L859,2212.3 L861.2,2210.3 L863.5,2208.4 L865.7,2206.3 L867.8,2204.2 L869.9,2202.1 L872,2199.9 L874,2197.7 L876.1,2195.5 L878.1,2193.3 L880.1,2191 L882,2188.7 L884,2186.4 L885.9,2184.1 L887.8,2181.8 L889.8,2179.6 L891.7,2177.3 L893.7,2175.1 L895.8,2172.8 L897.8,2170.6 L899.8,2168.4 L901.9,2166.2 L903.9,2164 L906,2161.8 L908,2159.6 L910.1,2157.5 L912.1,2155.3 L914.2,2153.1 L916.2,2150.9 L918.3,2148.7 L920.3,2146.5 L922.3,2144.3 L924.3,2142 L926.3,2139.8 L928.3,2137.5 L930.2,2135.2 L932.2,2132.9 L934.1,2130.6 L936,2128.3 L937.9,2126 L939.7,2123.7 L941.6,2121.3 L943.5,2118.9 L945.3,2116.6 L947.1,2114.2 L948.9,2111.8 L950.7,2109.3 L952.4,2106.9 L954,2104.4 L955.6,2101.8 L957.1,2099.2 L958.5,2096.6 L960,2094 L961.4,2091.3 L962.9,2088.7 L964.4,2086.1 L966,2083.6 L967.6,2081 L969.3,2078.5 L970.9,2076 L972.6,2073.5 L974.4,2071.1 L976.1,2068.6 L977.9,2066.2 L979.8,2063.9 L981.6,2061.6 L983.6,2059.3 L985.5,2057 L987.5,2054.8 L989.6,2052.6 L991.7,2050.4 L993.8,2048.3 L996,2046.2 L998.2,2044.1 L1000.4,2042.1 L1002.6,2040 L1004.9,2038 L1007.3,2036.2 L1009.7,2034.4 L1012.2,2032.9 L1014.8,2031.5 L1017.5,2030.1 L1020.2,2028.8 L1023.1,2027.7 L1025.9,2026.7 L1028.7,2025.9 L1031.6,2025.1 L1034.6,2024.4 L1037.5,2023.8 L1040.5,2023.3 L1043.4,2022.8 L1046.4,2022.5 L1049.4,2022.2 L1052.4,2021.8 L1055.4,2021.5 L1058.3,2021.1 L1061.3,2020.6 L1064.2,2019.9 L1067.2,2019.3 L1070.1,2018.6 L1073,2017.9 L1075.9,2017.2 L1078.9,2016.5 L1081.8,2015.8 L1084.7,2015.1 L1087.6,2014.3 L1090.5,2013.5 L1093.3,2012.6 L1096.2,2011.7 L1099,2010.7 L1101.8,2009.6 L1104.6,2008.5 L1107.3,2007.3 L1110,2006 L1112.7,2004.6 L1115.4,2003.2 L1118,2001.8 L1120.7,2000.4 L1123.3,1998.9 L1125.9,1997.4 L1128.5,1995.9 L1131,1994.3 L1133.6,1992.8 L1136.2,1991.3 L1138.8,1989.7 L1141.3,1988 L1143.9,1986.4 L1146.5,1984.9 L1149.1,1983.6 L1151.9,1982.5 L1154.7,1981.5 L1157.6,1980.6 L1160.5,1979.9 L1163.5,1979.5 L1166.4,1979.1 L1169.4,1978.8 L1172.4,1978.6 L1175.4,1978.2 L1178.4,1977.8 L1181.4,1977.4 L1184.3,1977 L1187.3,1976.5 L1190.3,1976.1 L1193.2,1975.6 L1196.2,1975.2 L1199.2,1974.7 L1202.1,1974.2 L1205.1,1973.6 L1208,1973.1 L1211,1972.6 L1213.9,1972 L1216.9,1971.4 L1219.8,1970.8 L1222.7,1970.2 L1225.7,1969.6 L1228.6,1969 L1231.6,1968.5 L1234.5,1967.9 L1237.5,1967.4 L1240.4,1966.8 L1243.4,1966.3 L1246.3,1965.8 L1249.3,1965.3 L1252.3,1964.9 L1255.2,1964.5 L1258.2,1964.2 L1261.2,1963.9 L1264.2,1963.6 L1267.2,1963.3 L1270.2,1963 L1273.2,1962.8 L1276.1,1962.6 L1279.1,1962.4 L1282.1,1962.2 L1285.1,1962 L1288.1,1961.8 L1291.1,1961.7 L1294.1,1961.4 L1297.1,1961.2 L1300.1,1961 L1303.1,1960.7 L1306.1,1960.4 L1309.1,1960.2 L1312,1959.9 L1315,1959.6 L1318,1959.3 L1321,1959 L1324,1958.7 L1327,1958.4 L1330,1958.1 L1332.9,1957.7 L1335.9,1957.3 L1338.8,1956.7 L1341.8,1956 L1344.7,1955.3 L1347.6,1954.6 L1350.5,1953.9 L1353.5,1953.3 L1356.4,1952.9 L1359.4,1952.5 L1362.4,1952.2 L1365.4,1951.8 L1368.3,1951.5 L1371.3,1951.3 L1374.3,1951 L1377.3,1950.7 L1380.3,1950.5 L1383.3,1950.2 L1386.3,1949.9 L1389.3,1949.7 L1392.3,1949.4 L1395.3,1949.1 L1398.3,1948.9 L1401.2,1948.7 L1404.2,1948.5 L1407.2,1948.4 L1410.2,1948.3 L1413.2,1948.2 L1416.2,1948.2 L1419.2,1948.2 L1422.2,1948.1 L1425.2,1948.1 L1428.2,1948 L1431.2,1947.9 L1434.2,1947.8 L1437.2,1947.6 L1440.2,1947.4 L1443.2,1947.1 L1446.2,1946.7 L1449.2,1946.3 L1452.1,1946 L1455.1,1945.6 L1458.1,1945.3 L1461.1,1945 L1464.1,1944.7 L1467.1,1944.4 L1470,1944.1 L1473,1943.8 L1476,1943.5 L1479,1943.2 L1482,1942.9 L1485,1942.6 L1487.9,1942.2 L1490.9,1941.9 L1493.9,1941.6 L1496.9,1941.2 L1499.9,1940.8 L1502.8,1940.4 L1505.8,1939.9 L1508.7,1939.3 L1511.6,1938.6 L1514.5,1937.8 L1517.4,1937 L1520.3,1936.2 L1523.2,1935.4 L1526.2,1934.8 L1529.1,1934.2 L1532,1933.6 L1535,1933 L1537.9,1932.4 L1540.9,1931.9 L1543.8,1931.4 L1546.8,1931 L1549.8,1930.6 L1552.8,1930.3 L1555.8,1930 L1558.8,1929.6 L1561.7,1929.3 L1564.7,1928.9 L1567.6,1928.4 L1570.6,1927.8 L1573.5,1927.1 L1576.4,1926.4 L1579.3,1925.6 L1582.2,1924.7 L1585.1,1923.9 L1587.9,1922.9 L1590.7,1921.9 L1593.5,1920.8 L1596.3,1919.6 L1599,1918.3 L1601.7,1917 L1604.4,1915.7 L1607,1914.2 L1609.6,1912.7 L1612.2,1911.1 L1614.7,1909.6 L1617.3,1908 L1619.9,1906.5 L1622.4,1904.9 L1625,1903.3 L1627.5,1901.7 L1630.1,1900.1 L1632.6,1898.5 L1635.1,1896.9 L1637.6,1895.2 L1640.1,1893.6 L1642.6,1891.9 L1645.1,1890.2 L1647.5,1888.5 L1650,1886.8 L1652.5,1885 L1654.9,1883.3 L1657.4,1881.6 L1659.9,1879.9 L1662.3,1878.2 L1664.8,1876.5 L1667.2,1874.7 L1669.7,1873 L1672.1,1871.3 L1674.6,1869.6 L1677.1,1867.9 L1679.6,1866.3 L1682.1,1864.6 L1684.6,1863 L1687.2,1861.4 L1689.7,1859.8 L1692.3,1858.3 L1694.8,1856.7 L1697.4,1855.1 L1699.9,1853.4 L1702.4,1851.8 L1704.9,1850.1 L1707.4,1848.5 L1709.9,1846.8 L1712.4,1845.2 L1714.9,1843.5 L1717.4,1841.9 L1719.9,1840.2 L1722.4,1838.6 L1725,1837 L1727.5,1835.3 L1730,1833.7 L1732.4,1832 L1734.9,1830.2 L1737.3,1828.4 L1739.7,1826.7 L1742.2,1824.9 L1744.6,1823.1 L1747,1821.4 L1749.5,1819.7 L1752,1818.1 L1754.6,1816.5 L1757.1,1815 L1759.7,1813.5 L1762.4,1812 L1765,1810.6 L1767.6,1809.1 L1770.3,1807.7 L1772.9,1806.2 L1775.5,1804.7 L1778.1,1803.2 L1780.7,1801.7 L1783.3,1800.2 L1785.8,1798.7 L1788.4,1797.1 L1791,1795.6 L1793.6,1794 L1796.1,1792.5 L1798.7,1790.9 L1801.2,1789.3 L1803.8,1787.8 L1806.3,1786.2 L1808.9,1784.5 L1811.4,1782.9 L1813.9,1781.3 L1816.4,1779.7 L1819,1778.1 L1821.5,1776.5 L1824.1,1774.9 L1826.6,1773.3 L1829.2,1771.8 L1831.8,1770.3 L1834.3,1768.7 L1836.9,1767.2 L1839.5,1765.7 L1842.1,1764.1 L1844.7,1762.6 L1847.2,1761 L1849.8,1759.5 L1852.3,1757.9 L1854.9,1756.3 L1857.4,1754.8 L1860,1753.2 L1862.5,1751.6 L1865.1,1750 L1867.6,1748.4 L1870.2,1746.8 L1872.7,1745.2 L1875.2,1743.6 L1877.8,1742 L1880.3,1740.4 L1882.9,1738.8 L1885.4,1737.2 L1887.9,1735.6 L1890.5,1734 L1893,1732.4 L1895.6,1730.8 L1898.1,1729.3 L1900.7,1727.7 L1903.2,1726.1 L1905.7,1724.4 L1908.3,1722.8 L1910.8,1721.2 L1913.4,1719.7 L1916,1718.2 L1918.6,1716.7 L1921.2,1715.3 L1923.9,1714 L1926.6,1712.7 L1929.4,1711.5 L1932.1,1710.3 L1934.9,1709.1 L1937.7,1708 L1940.5,1706.9 L1943.3,1705.9 L1946.1,1704.9 L1949,1703.9 L1951.8,1703 L1954.7,1702.1 L1957.6,1701.3 L1960.5,1700.6 L1963.4,1700 L1966.4,1699.4 L1969.3,1698.9 L1972.3,1698.4 L1975.3,1698 L1978.3,1697.6 L1980,1697.4" fill="none" stroke="#dd0000" stroke-width="10.4" stroke-linejoin="round" stroke-linecap="round"/>
<path d="M308.1,2895.5L317.3,2886.3L326.5,2895.5L317.3,2904.7ZM310.5,2894.6L319.7,2885.4L328.9,2894.6L319.7,2903.8ZM312.9,2893.7L322.1,2884.5L331.3,2893.7L322.1,2902.9ZM315.3,2892.7L324.5,2883.5L333.7,2892.7L324.5,2901.9ZM317.7,2891.8L326.9,2882.6L336.1,2891.8L326.9,2901ZM320.1,2890.8L329.3,2881.6L338.5,2890.8L329.3,2900ZM322.5,2889.9L331.7,2880.7L340.9,2889.9L331.7,2899.1ZM324.9,2888.9L334.1,2879.7L343.3,2888.9L334.1,2898.1ZM327.3,2888L336.5,2878.8L345.7,2888L336.5,2897.2ZM329.7,2886.9L338.9,2877.7L348.1,2886.9L338.9,2896.1ZM332.1,2885.2L341.3,2876L350.5,2885.2L341.3,2894.4ZM334.5,2883.5L343.7,2874.3L352.9,2883.5L343.7,2892.7ZM336.9,2881.8L346.1,2872.6L355.3,2881.8L346.1,2891ZM339.3,2880.1L348.5,2870.9L357.7,2880.1L348.5,2889.3ZM341.7,2878.5L350.9,2869.3L360.1,2878.5L350.9,2887.7ZM344.1,2876.8L353.3,2867.6L362.5,2876.8L353.3,2886ZM346.5,2875.1L355.7,2865.9L364.9,2875.1L355.7,2884.3ZM348.9,2873.5L358.1,2864.3L367.3,2873.5L358.1,2882.7ZM351.3,2872.3L360.5,2863.1L369.7,2872.3L360.5,2881.5ZM353.7,2871.1L362.9,2861.9L372.1,2871.1L362.9,2880.3ZM356.1,2869.9L365.3,2860.7L374.5,2869.9L365.3,2879.1ZM358.5,2868.7L367.7,2859.5L376.9,2868.7L367.7,2877.9ZM360.9,2867.5L370.1,2858.3L379.3,2867.5L370.1,2876.7ZM363.3,2866.3L372.5,2857.1L381.7,2866.3L372.5,2875.5ZM365.7,2865.1L374.9,2855.9L384.1,2865.1L374.9,2874.3ZM368.1,2863.7L377.3,2854.5L386.5,2863.7L377.3,2872.9ZM373.4,2858.4L382.6,2849.2L391.8,2858.4L382.6,2867.6ZM379.2,2852.6L388.4,2843.4L397.6,2852.6L388.4,2861.8ZM385.4,2843.3L394.6,2834.1L403.8,2843.3L394.6,2852.5ZM392.1,2834.3L401.3,2825.1L410.5,2834.3L401.3,2843.5ZM397.5,2817L406.7,2807.8L415.9,2817L406.7,2826.2ZM403.2,2796.8L412.4,2787.6L421.6,2796.8L412.4,2806ZM410,2779.5L419.2,2770.3L428.4,2779.5L419.2,2788.7ZM416.7,2762.2L425.9,2753L435.1,2762.2L425.9,2771.4ZM425.3,2748.8L434.5,2739.6L443.7,2748.8L434.5,2758ZM434.9,2741.1L444.1,2731.9L453.3,2741.1L444.1,2750.3ZM444.6,2733.4L453.8,2724.2L463,2733.4L453.8,2742.6ZM454.2,2717.1L463.4,2707.9L472.6,2717.1L463.4,2726.3ZM462.4,2700.7L471.6,2691.5L480.8,2700.7L471.6,2709.9ZM470.5,2685.3L479.7,2676.1L488.9,2685.3L479.7,2694.5ZM478.8,2675L488,2665.8L497.2,2675L488,2684.2ZM488.8,2665.2L498,2656L507.2,2665.2L498,2674.4ZM496.5,2645.9L505.7,2636.7L514.9,2645.9L505.7,2655.1ZM504.7,2625.9L513.9,2616.7L523.1,2625.9L513.9,2635.1ZM513.8,2617.3L523,2608.1L532.2,2617.3L523,2626.5ZM523.4,2608.7L532.6,2599.5L541.8,2608.7L532.6,2617.9ZM533.6,2586.6L542.8,2577.4L552,2586.6L542.8,2595.8ZM542.7,2553L551.9,2543.8L561.1,2553L551.9,2562.2ZM551.9,2513L561.1,2503.8L570.3,2513L561.1,2522.2ZM562.3,2479L571.5,2469.8L580.7,2479L571.5,2488.2ZM573,2453L582.2,2443.8L591.4,2453L582.2,2462.2ZM583,2435.7L592.2,2426.5L601.4,2435.7L592.2,2444.9ZM593.6,2426.1L602.8,2416.9L612,2426.1L602.8,2435.3ZM604.2,2419.4L613.4,2410.2L622.6,2419.4L613.4,2428.6ZM614.7,2414.6L623.9,2405.4L633.1,2414.6L623.9,2423.8ZM625.3,2406.9L634.5,2397.7L643.7,2406.9L634.5,2416.1ZM636.8,2395.3L646,2386.1L655.2,2395.3L646,2404.5ZM648.4,2388.6L657.6,2379.4L666.8,2388.6L657.6,2397.8ZM659.9,2385.7L669.1,2376.5L678.3,2385.7L669.1,2394.9ZM671.4,2373.2L680.6,2364L689.8,2373.2L680.6,2382.4ZM683,2360.8L692.2,2351.6L701.4,2360.8L692.2,2370ZM695.5,2354L704.7,2344.8L713.9,2354L704.7,2363.2ZM708,2353.1L717.2,2343.9L726.4,2353.1L717.2,2362.3ZM720.4,2350.2L729.6,2341L738.8,2350.2L729.6,2359.4ZM733.9,2344.5L743.1,2335.3L752.3,2344.5L743.1,2353.7ZM747.1,2339.6L756.3,2330.4L765.5,2339.6L756.3,2348.8ZM759.9,2337L769.1,2327.8L778.3,2337L769.1,2346.2ZM772.7,2335.2L781.9,2326L791.1,2335.2L781.9,2344.4ZM785.5,2334.5L794.7,2325.3L803.9,2334.5L794.7,2343.7ZM798.4,2333.2L807.6,2324L816.8,2333.2L807.6,2342.4ZM812.5,2330.6L821.7,2321.4L830.9,2330.6L821.7,2339.8ZM826.6,2326.8L835.8,2317.6L845,2326.8L835.8,2336ZM840.6,2319.1L849.8,2309.9L859,2319.1L849.8,2328.3ZM854.7,2309.6L863.9,2300.4L873.1,2309.6L863.9,2318.8ZM868.8,2297.3L878,2288.1L887.2,2297.3L878,2306.5ZM882.9,2283.2L892.1,2274L901.3,2283.2L892.1,2292.4ZM897.8,2267.8L907,2258.6L916.2,2267.8L907,2277ZM912.9,2252.5L922.1,2243.3L931.3,2252.5L922.1,2261.7ZM927.8,2237.1L937,2227.9L946.2,2237.1L937,2246.3ZM943.2,2221.5L952.4,2212.3L961.6,2221.5L952.4,2230.7ZM958.2,2203.2L967.4,2194L976.6,2203.2L967.4,2212.4ZM973.5,2185.7L982.7,2176.5L991.9,2185.7L982.7,2194.9ZM989.1,2170.4L998.3,2161.2L1007.5,2170.4L998.3,2179.6ZM1004.3,2159.6L1013.5,2150.4L1022.7,2159.6L1013.5,2168.8ZM1020.2,2152.4L1029.4,2143.2L1038.6,2152.4L1029.4,2161.6ZM1036.1,2148.6L1045.3,2139.4L1054.5,2148.6L1045.3,2157.8ZM1052.3,2147.3L1061.5,2138.1L1070.7,2147.3L1061.5,2156.5ZM1068.9,2146L1078.1,2136.8L1087.3,2146L1078.1,2155.2ZM1085.6,2144.7L1094.8,2135.5L1104,2144.7L1094.8,2153.9ZM1102.2,2142.2L1111.4,2133L1120.6,2142.2L1111.4,2151.4ZM1119.4,2135.8L1128.6,2126.6L1137.8,2135.8L1128.6,2145ZM1136.1,2130.7L1145.3,2121.5L1154.5,2130.7L1145.3,2139.9ZM1153.5,2127.3L1162.7,2118.1L1171.9,2127.3L1162.7,2136.5ZM1170.7,2125.5L1179.9,2116.3L1189.1,2125.5L1179.9,2134.7ZM1188.1,2119.1L1197.3,2109.9L1206.5,2119.1L1197.3,2128.3ZM1206,2114L1215.2,2104.8L1224.4,2114L1215.2,2123.2ZM1224,2107.1L1233.2,2097.9L1242.4,2107.1L1233.2,2116.3ZM1241.4,2104.5L1250.6,2095.3L1259.8,2104.5L1250.6,2113.7ZM1259.8,2099.4L1269,2090.2L1278.2,2099.4L1269,2108.6ZM1278.3,2092.7L1287.5,2083.5L1296.7,2092.7L1287.5,2101.9ZM1297,2087.1L1306.2,2077.9L1315.4,2087.1L1306.2,2096.3ZM1315.7,2083.2L1324.9,2074L1334.1,2083.2L1324.9,2092.4ZM1334.1,2081.1L1343.3,2071.9L1352.5,2081.1L1343.3,2090.3ZM1352.3,2075.5L1361.5,2066.3L1370.7,2075.5L1361.5,2084.7ZM1371.5,2068.8L1380.7,2059.6L1389.9,2068.8L1380.7,2078ZM1390.8,2061.9L1400,2052.7L1409.2,2061.9L1400,2071.1ZM1410,2056.8L1419.2,2047.6L1428.4,2056.8L1419.2,2066ZM1429.7,2054.7L1438.9,2045.5L1448.1,2054.7L1438.9,2063.9ZM1449.4,2054.7L1458.6,2045.5L1467.8,2054.7L1458.6,2063.9ZM1469.4,2052.4L1478.6,2043.2L1487.8,2052.4L1478.6,2061.6ZM1489.2,2048.3L1498.4,2039.1L1507.6,2048.3L1498.4,2057.5ZM1509.1,2042.7L1518.3,2033.5L1527.5,2042.7L1518.3,2051.9ZM1529.6,2039.6L1538.8,2030.4L1548,2039.6L1538.8,2048.8ZM1550.1,2037.6L1559.3,2028.4L1568.5,2037.6L1559.3,2046.8ZM1570.1,2033.7L1579.3,2024.5L1588.5,2033.7L1579.3,2042.9ZM1591.1,2026.8L1600.3,2017.6L1609.5,2026.8L1600.3,2036ZM1611.6,2017.1L1620.8,2007.9L1630,2017.1L1620.8,2026.3ZM1632.7,2006.3L1641.9,1997.1L1651.1,2006.3L1641.9,2015.5ZM1654.4,1994L1663.6,1984.8L1672.8,1994L1663.6,2003.2ZM1675.7,1981L1684.9,1971.8L1694.1,1981L1684.9,1990.2ZM1697.5,1968.6L1706.7,1959.4L1715.9,1968.6L1706.7,1977.8ZM1718.2,1957.1L1727.4,1947.9L1736.6,1957.1L1727.4,1966.3ZM1740.1,1948.3L1749.3,1939.1L1758.5,1948.3L1749.3,1957.5ZM1762.1,1941.5L1771.3,1932.3L1780.5,1941.5L1771.3,1950.7ZM1784.3,1934.3L1793.5,1925.1L1802.7,1934.3L1793.5,1943.5ZM1806.5,1928.9L1815.7,1919.7L1824.9,1928.9L1815.7,1938.1ZM1829,1922.9L1838.2,1913.7L1847.4,1922.9L1838.2,1932.1ZM1851.4,1916.4L1860.6,1907.2L1869.8,1916.4L1860.6,1925.6ZM1874.4,1910.3L1883.6,1901.1L1892.8,1910.3L1883.6,1919.5ZM1896.6,1906L1905.8,1896.8L1915,1906L1905.8,1915.2ZM1919.6,1901.9L1928.8,1892.7L1938,1901.9L1928.8,1911.1ZM1943,1901.2L1952.2,1892L1961.4,1901.2L1952.2,1910.4ZM1966.6,1900L1975.8,1890.8L1985,1900L1975.8,1909.2Z" fill="#0000d4"/>
</g>
<g class="tk" text-anchor="end">
<text x="271.5" y="73.1">1.4</text>
<text x="271.5" y="270.6">1.2</text>
<text x="271.5" y="469.6">1</text>
<text x="271.5" y="665.4">0.8</text>
<text x="271.5" y="863.4">0.6</text>
<text x="271.5" y="1059.4">0.4</text>
<text x="271.5" y="1258.2">0.2</text>
<text x="271.5" y="1454.1">0</text>
<text x="271.5" y="1532.9">3.5</text>
<text x="271.5" y="1731.9">3</text>
<text x="271.5" y="1927.1">2.5</text>
<text x="271.5" y="2126.4">2</text>
<text x="271.5" y="2321.6">1.5</text>
<text x="271.5" y="2520.6">1</text>
<text x="271.5" y="2716">0.5</text>
<text x="271.5" y="2913.6">0</text>
</g>
<g class="tk" text-anchor="middle">
<text x="410.8" y="2991">0</text>
<text x="608.5" y="2991">20</text>
<text x="803.5" y="2991">40</text>
<text x="1000.3" y="2991">60</text>
<text x="1196.2" y="2991">80</text>
<text x="1394.5" y="2991">100</text>
<text x="1590" y="2991">120</text>
<text x="1787" y="2991">140</text>
<text x="1983" y="2991">160</text>
<text x="1108" y="3098.4" style="font-size:64.6px">Energy(eV)</text>
</g>
<text class="yl" text-anchor="middle" transform="translate(92.4,707.5) rotate(-90)">normalized absorption (arb. units)</text>
<text class="yl" text-anchor="middle" transform="translate(144,2160.5) rotate(-90)">integral (arb.units)</text>
<text class="pl" text-anchor="middle" transform="translate(1760,201.7) scale(0.91,1)" style="font-size:85px">A</text>
<text class="pl" text-anchor="middle" x="564.5" y="1689.6" style="font-size:88px">B</text>
</svg></body></html>
